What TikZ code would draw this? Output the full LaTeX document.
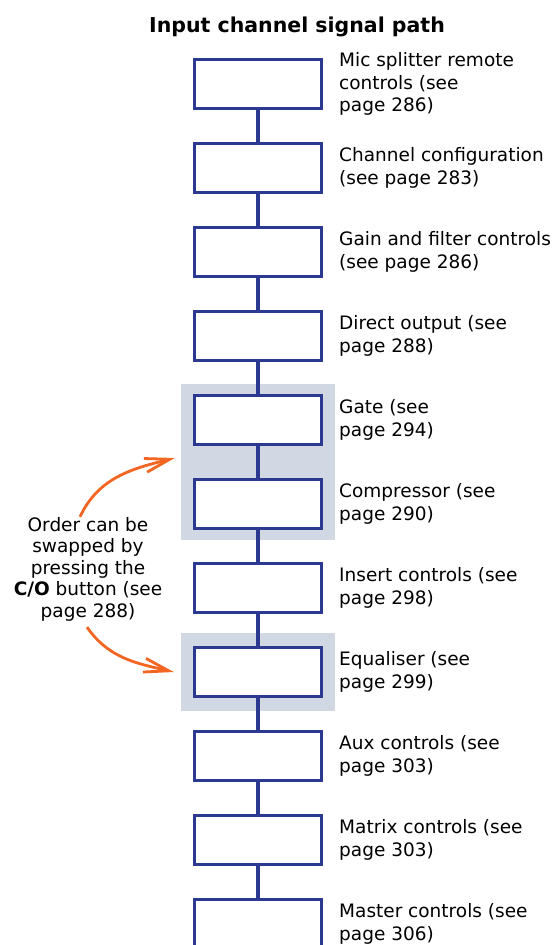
\documentclass[tikz,border=0pt]{standalone}
\usepackage{fontspec}
\setmainfont{DejaVu Sans}
\usetikzlibrary{positioning,fit,backgrounds,arrows.meta}
\definecolor{pathblue}{RGB}{43,57,144}
\definecolor{groupgrey}{RGB}{209,215,227}
\definecolor{noteorange}{RGB}{242,101,34}

\begin{document}
\begin{tikzpicture}[x=1pt,y=1pt,node distance=32pt,
  blk/.style={draw=pathblue,line width=3.3pt,fill=white,minimum width=126.7pt,minimum height=48.7pt,inner sep=0pt},
  lbl/.style={align=left,inner sep=0pt,anchor=west,font=\fontsize{18.5}{22.5}\selectfont},
  grp/.style={fill=groupgrey,inner sep=0pt},
  link/.style={pathblue,line width=3.3pt},
  swap/.style={noteorange,line width=2.8pt,-{Straight Barb[length=25pt,width=14pt]}}]
  \useasboundingbox (0,0) rectangle (552,-945);

  \node[anchor=base,font=\fontsize{20.5}{24}\selectfont\bfseries] (title) at (297,-32) {Input channel signal path};

  \node[blk] (b0) at (258,-84) {};
  \node[blk,below=of b0] (b1) {};
  \node[blk,below=of b1] (b2) {};
  \node[blk,below=of b2] (b3) {};
  \node[blk,below=of b3] (b4) {};
  \node[blk,below=of b4] (b5) {};
  \node[blk,below=of b5] (b6) {};
  \node[blk,below=of b6] (b7) {};
  \node[blk,below=of b7] (b8) {};
  \node[blk,below=of b8] (b9) {};
  \node[blk,below=of b9] (b10) {};

  \foreach \i [evaluate=\i as \j using int(\i+1)] in {0,...,9}
    \draw[link] (b\i.south) -- (b\j.north);

  \begin{scope}[on background layer]
    \node[grp,fit=(b4)(b5),inner xsep=12pt,inner ysep=10pt] (g1) {};
    \node[grp,fit=(b7),inner xsep=12pt,inner ysep=13pt] (g2) {};
  \end{scope}

  \node[lbl,right=16pt of b0] (l0) {Mic splitter remote\\controls (see\\page 286)};
  \node[lbl,right=16pt of b1] (l1) {Channel configuration\\(see page 283)};
  \node[lbl,right=16pt of b2] (l2) {Gain and filter controls\\(see page 286)};
  \node[lbl,right=16pt of b3] (l3) {Direct output (see\\page 288)};
  \node[lbl,right=16pt of b4] (l4) {Gate (see\\page 294)};
  \node[lbl,right=16pt of b5] (l5) {Compressor (see\\page 290)};
  \node[lbl,right=16pt of b6] (l6) {Insert controls (see\\page 298)};
  \node[lbl,right=16pt of b7] (l7) {Equaliser (see\\page 299)};
  \node[lbl,right=16pt of b8] (l8) {Aux controls (see\\page 303)};
  \node[lbl,right=16pt of b9] (l9) {Matrix controls (see\\page 303)};
  \node[lbl,right=16pt of b10] (l10) {Master controls (see\\page 306)};

  % C/O swap note
  \node[align=center,inner sep=0pt,font=\fontsize{18.5}{21.5}\selectfont] (note) at (88,-569)
    {Order can be\\swapped by\\pressing the\\\textbf{C/O} button (see\\page 288)};
  \draw[swap] ([xshift=-8pt]note.north) to[out=65,in=194] ([xshift=-6pt,yshift=4pt]g1.west);
  \draw[swap] ([xshift=-1pt,yshift=-6pt]note.south) to[out=-55,in=167] ([xshift=-7pt]g2.west);
\end{tikzpicture}
\end{document}
